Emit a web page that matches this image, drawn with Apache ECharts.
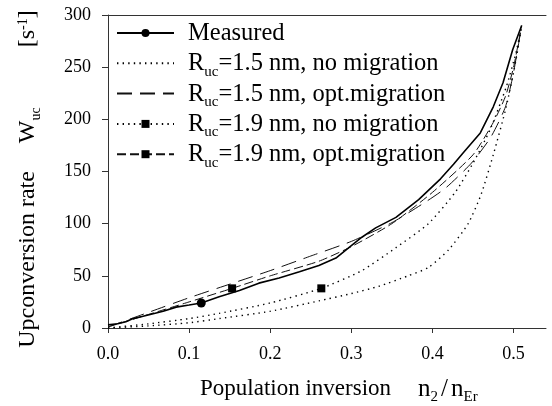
<!DOCTYPE html>
<html>
<head>
<meta charset="utf-8">
<script src="https://cdn.jsdelivr.net/npm/echarts@6/dist/echarts.min.js"></script>
<style>
html,body{margin:0;padding:0;background:#fff;}
#chart{width:552px;height:406px;}
</style>
</head>
<body>
<div id="chart"></div>
<script>
// ---- data ----
const seriesNames = [
  'Measured',
  'Ruc=1.5 nm, no migration',
  'Ruc=1.5 nm, opt.migration',
  'Ruc=1.9 nm, no migration',
  'Ruc=1.9 nm, opt.migration'
];
const xTickValues = [0, 0.1, 0.2, 0.3, 0.4, 0.5];
const yTickValues = [0, 50, 100, 150, 200, 250, 300];

const measuredX = [0, 0.012, 0.022, 0.031, 0.042, 0.052, 0.068, 0.084, 0.1, 0.115, 0.137, 0.162, 0.186, 0.211, 0.236, 0.26, 0.281, 0.3, 0.313, 0.33, 0.355, 0.383, 0.41, 0.426, 0.438, 0.459, 0.475, 0.487, 0.499, 0.51];
const measuredY = [3, 4, 6, 9, 11, 13, 16, 20, 22, 24, 30, 36, 43, 48, 54, 60, 67, 79, 87, 96, 106, 123, 143, 157, 168, 187, 212, 235, 267, 290];
const measuredMarkerX = 0.115;

const r15NoX = [0, 0.05, 0.1, 0.137, 0.2, 0.26, 0.3, 0.334, 0.37, 0.395, 0.42, 0.444, 0.46, 0.475, 0.491, 0.503, 0.51];
const r15NoY = [0, 2, 5, 9, 16, 26, 33, 40, 50, 58, 75, 100, 128, 166, 212, 257, 290];

const r15OptX = [0, 0.05, 0.1, 0.15, 0.2, 0.25, 0.3, 0.35, 0.39, 0.416, 0.448, 0.472, 0.49, 0.5, 0.51];
const r15OptY = [1, 15, 29, 42, 55, 69, 83, 101, 120, 134, 158, 183, 212, 245, 290];

const r19NoX = [0, 0.05, 0.1, 0.137, 0.2, 0.263, 0.313, 0.355, 0.395, 0.428, 0.45, 0.471, 0.491, 0.503, 0.51];
const r19NoY = [0, 4, 9, 14, 24, 38, 55, 77, 100, 130, 158, 190, 231, 264, 290];
const r19NoMarkerX = 0.263;

const r19OptX = [0, 0.05, 0.1, 0.153, 0.2, 0.26, 0.3, 0.35, 0.4, 0.45, 0.475, 0.49, 0.5, 0.51];
const r19OptY = [1, 13, 25, 38, 50, 64, 78, 100, 130, 166, 197, 222, 250, 290];
const r19OptMarkerX = 0.153;

// ---- helpers ----
function pairs(xs, ys, markX) {
  return xs.map((x, i) => {
    const item = { value: [x, ys[i]] };
    if (markX === undefined || x !== markX) item.symbol = 'none';
    return item;
  });
}
const FONT = 'Liberation Serif';
const richBase = {
  n: { fontFamily: FONT, fontSize: 24.5, lineHeight: 24, verticalAlign: 'top', color: '#000' },
  s: { fontFamily: FONT, fontSize: 15, lineHeight: 15, verticalAlign: 'top', padding: [13, 0, 0, 0], color: '#000' },
  g: { width: 9, fontSize: 10, lineHeight: 24, verticalAlign: 'top' }
};
function legendText(name) {
  if (name.indexOf('Ruc') === 0) {
    return '{g| }{n|R}{s|uc}{n|' + name.slice(3) + '}';
  }
  return '{g| }{n|' + name + '}{s| }';
}

const chart = echarts.init(document.getElementById('chart'), null, { renderer: 'canvas' });

const lineBase = { type: 'line', showAllSymbol: true, animation: false, z: 3 };

const option = {
  backgroundColor: '#fff',
  animation: false,
  grid: { left: 108, right: 6, top: 15, bottom: 78, containLabel: false },
  legend: {
    orient: 'vertical',
    left: 116,
    top: 21,
    padding: 0,
    itemGap: 2.3,
    itemWidth: 57,
    itemHeight: 10,
    data: seriesNames,
    formatter: legendText,
    textStyle: { rich: richBase, fontFamily: FONT, fontSize: 24, color: '#000' }
  },
  xAxis: [{
    type: 'value', min: 0, max: 0.54, interval: 0.1,
    axisLine: { show: true, lineStyle: { color: '#333', width: 1 } },
    axisTick: { show: true, inside: false, length: 5, customValues: xTickValues, lineStyle: { color: '#333' } },
    axisLabel: { customValues: xTickValues, margin: 17, fontFamily: FONT, fontSize: 18, color: '#000',
      formatter: v => v.toFixed(1) },
    splitLine: { show: false }
  }, {
    type: 'value', min: 0, max: 0.54, position: 'top',
    axisLine: { show: true, onZero: false, lineStyle: { color: '#333', width: 1 } },
    axisTick: { show: false }, axisLabel: { show: false }, splitLine: { show: false }
  }],
  yAxis: {
    type: 'value', min: 0, max: 300, interval: 50,
    axisLine: { show: true, lineStyle: { color: '#333', width: 1 } },
    axisTick: { show: true, inside: false, length: 6, lineStyle: { color: '#333' } },
    axisLabel: { margin: 17, fontFamily: FONT, fontSize: 18, color: '#000' },
    splitLine: { show: false }
  },
  graphic: [
    {
      type: 'text', x: 200, y: 377, silent: true,
      style: {
        text: '{n|Population inversion}{sp|}{m|n}{s|2}{t|}{m|/}{t|}{m|n}{s|Er}',
        align: 'left', verticalAlign: 'top',
        rich: {
          n: { fontFamily: FONT, fontSize: 23, lineHeight: 24, verticalAlign: 'top', color: '#000' },
          m: { fontFamily: FONT, fontSize: 25, lineHeight: 24, verticalAlign: 'top', color: '#000' },
          s: { fontFamily: FONT, fontSize: 15, lineHeight: 15, verticalAlign: 'top', padding: [13, 0, 0, 0], color: '#000' },
          sp: { width: 27, lineHeight: 24 },
          t: { width: 3, lineHeight: 24 }
        }
      }
    },
    {
      type: 'text', x: 28, y: 179, rotation: Math.PI / 2, silent: true,
      style: {
        text: '{n|Upconversion rate}{sp1|}{n|W}{s|uc}{sp2|}{n|[s}{p|-1}{n|]}',
        align: 'center', verticalAlign: 'middle',
        rich: {
          n: { fontFamily: FONT, fontSize: 24, lineHeight: 24, verticalAlign: 'top', color: '#000' },
          s: { fontFamily: FONT, fontSize: 14, lineHeight: 14, verticalAlign: 'top', padding: [13, 0, 0, 0], color: '#000' },
          p: { fontFamily: FONT, fontSize: 14, lineHeight: 14, verticalAlign: 'top', color: '#000' },
          sp1: { width: 28, lineHeight: 24 },
          sp2: { width: 60, lineHeight: 24 }
        }
      }
    }
  ],
  series: [
    Object.assign({}, lineBase, {
      name: seriesNames[0],
      data: pairs(measuredX, measuredY, measuredMarkerX),
      symbol: 'circle', symbolSize: 9,
      itemStyle: { color: '#000' },
      lineStyle: { color: '#000', width: 1.6, type: 'solid' },
      z: 5
    }),
    Object.assign({}, lineBase, {
      name: seriesNames[1],
      data: pairs(r15NoX, r15NoY),
      symbol: 'circle', symbolSize: 1, smooth: 0.2,
      itemStyle: { color: '#000', opacity: 0 },
      lineStyle: { color: '#000', width: 1.4, type: [1.4, 4.2] }
    }),
    Object.assign({}, lineBase, {
      name: seriesNames[2],
      data: pairs(r15OptX, r15OptY),
      symbol: 'circle', symbolSize: 1, smooth: 0.2,
      itemStyle: { color: '#000', opacity: 0 },
      lineStyle: { color: '#111', width: 1, type: [15, 8] }
    }),
    Object.assign({}, lineBase, {
      name: seriesNames[3],
      data: pairs(r19NoX, r19NoY, r19NoMarkerX),
      symbol: 'rect', symbolSize: 8, smooth: 0.2,
      itemStyle: { color: '#000' },
      lineStyle: { color: '#000', width: 1.4, type: [1.4, 4.2] }
    }),
    Object.assign({}, lineBase, {
      name: seriesNames[4],
      data: pairs(r19OptX, r19OptY, r19OptMarkerX),
      symbol: 'rect', symbolSize: 8, smooth: 0.2,
      itemStyle: { color: '#000' },
      lineStyle: { color: '#111', width: 1, type: [9, 4] }
    })
  ]
};
chart.setOption(option);
</script>
</body>
</html>
